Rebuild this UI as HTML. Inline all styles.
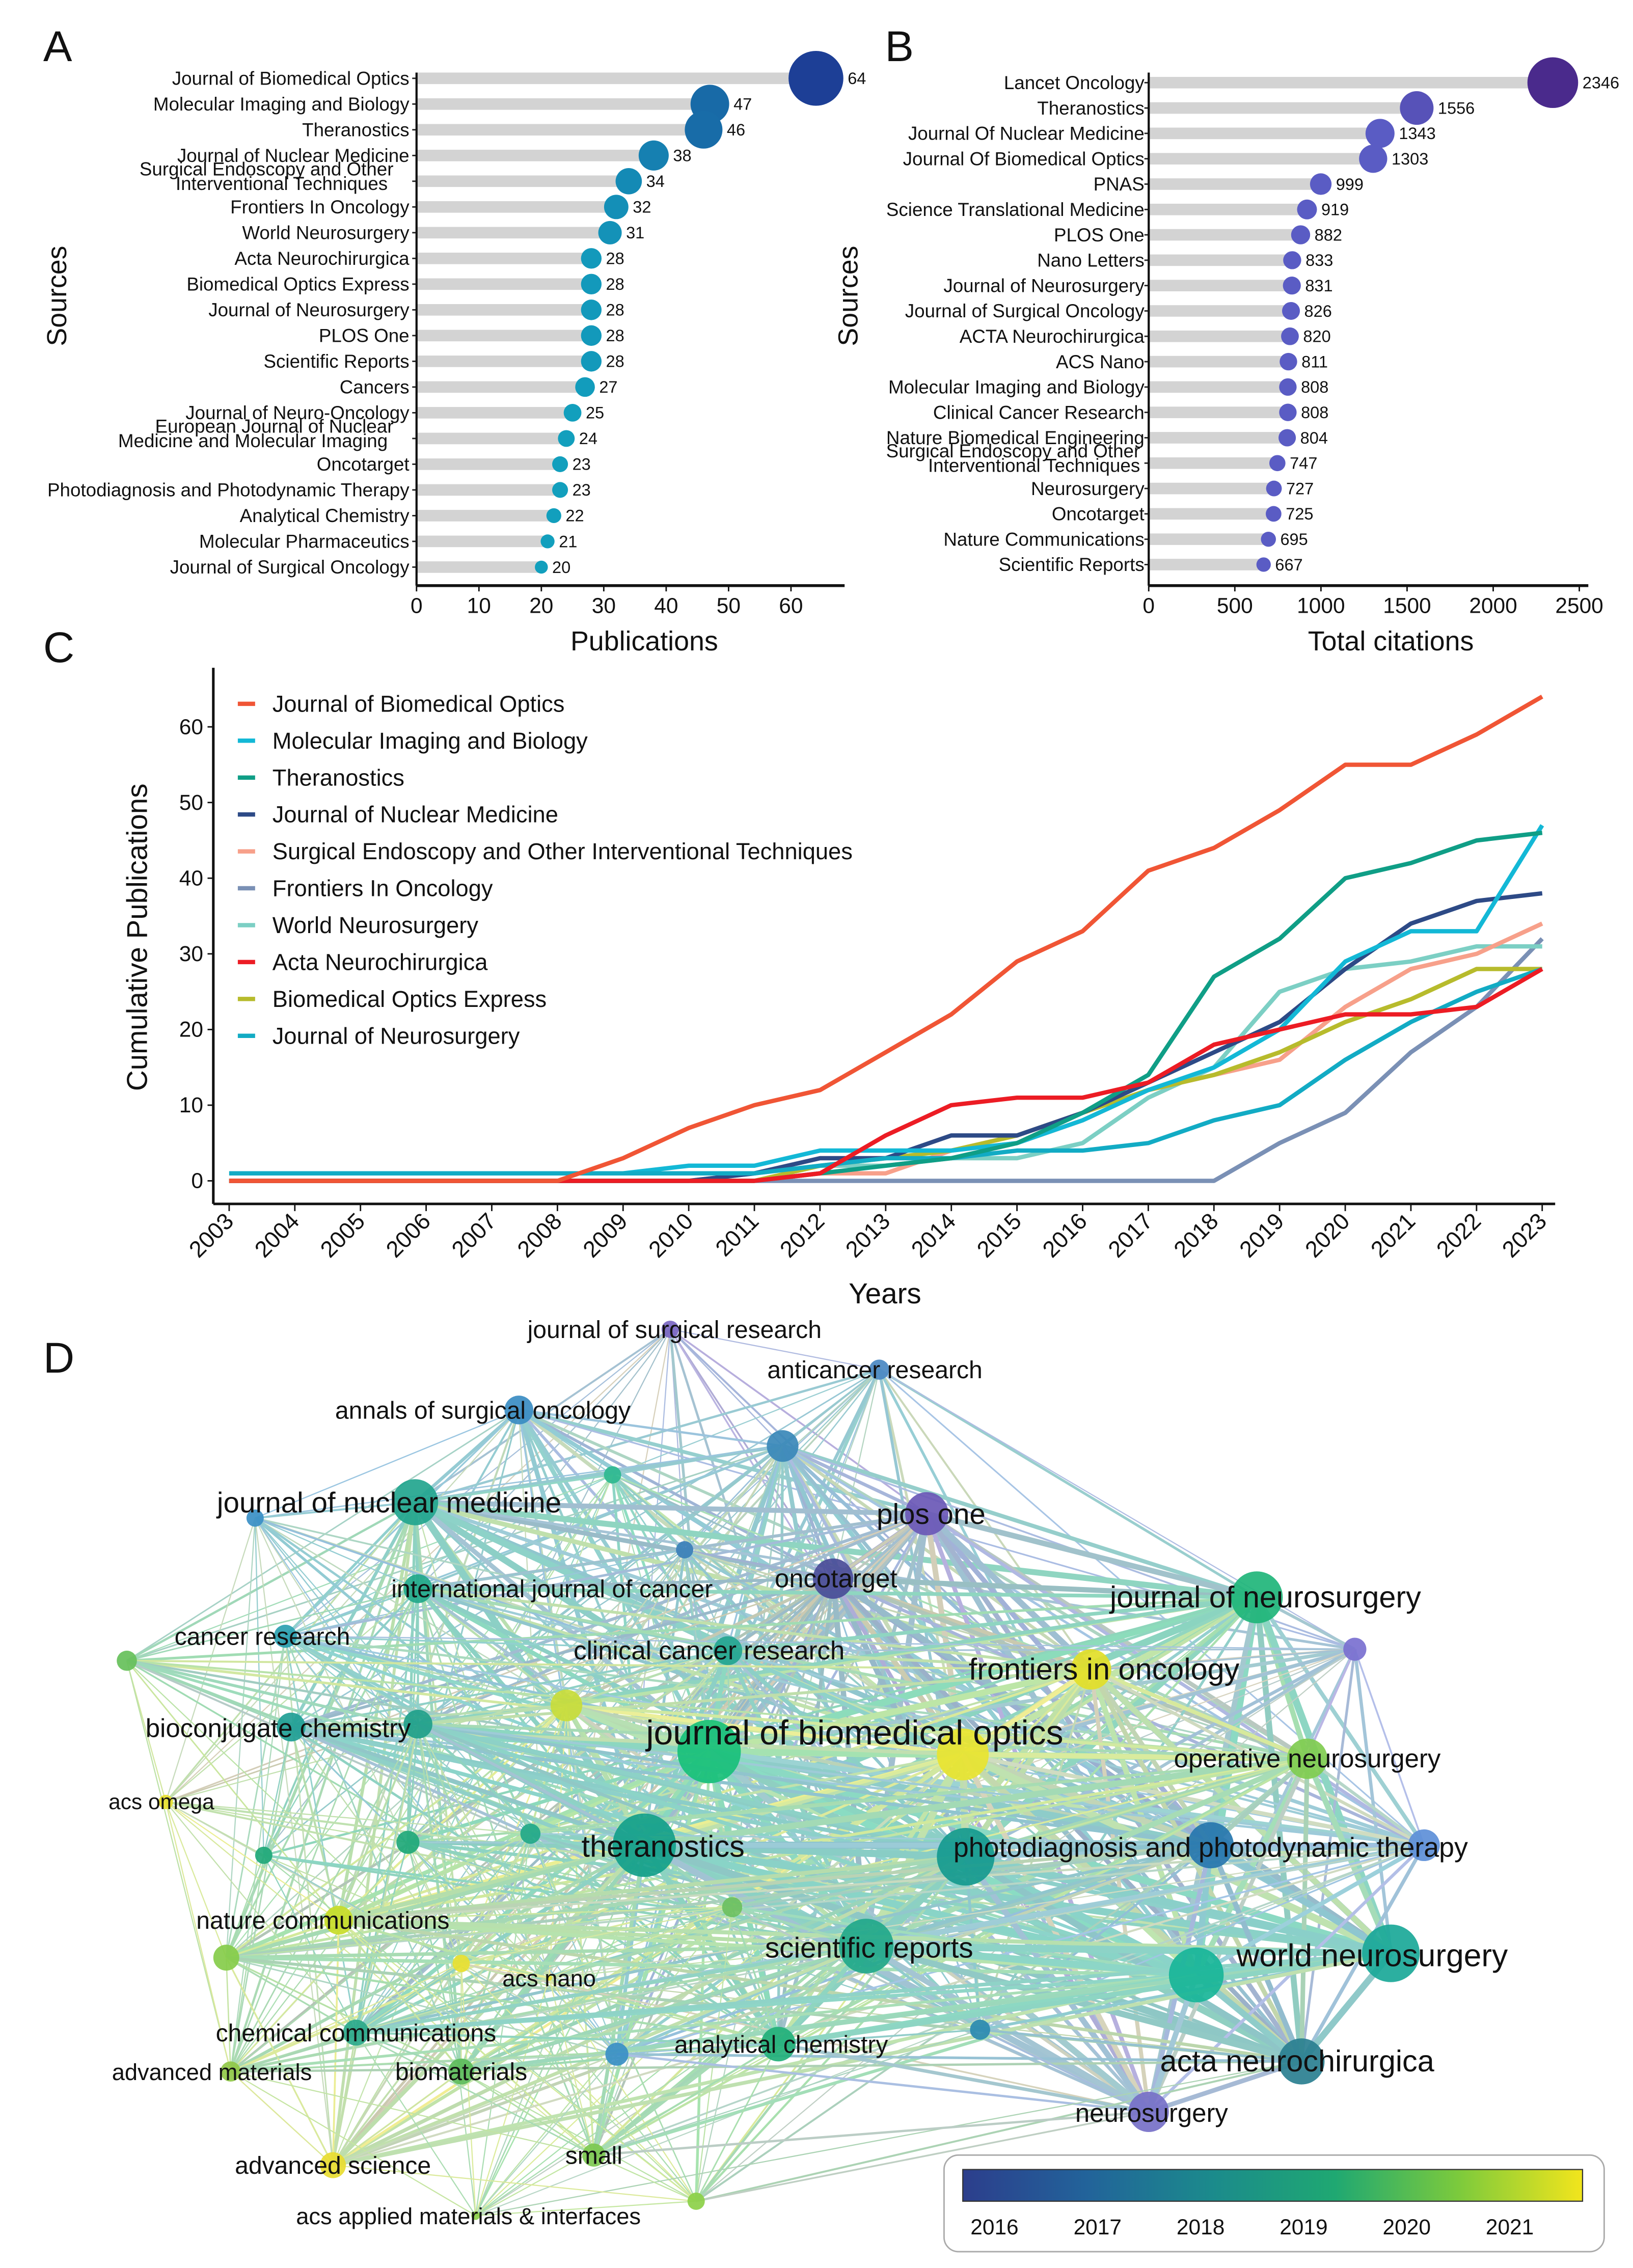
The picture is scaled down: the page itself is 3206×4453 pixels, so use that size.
<!DOCTYPE html>
<html><head><meta charset="utf-8">
<style>
html,body{margin:0;padding:0;background:#fff;}
svg{display:block;}
text{font-family:"Liberation Sans Narrow","Liberation Sans",sans-serif;fill:#111;}
.w{font-family:"Liberation Sans",sans-serif;}
</style></head>
<body>
<svg id="fig" width="3206" height="4453" viewBox="0 0 1133 1573" xmlns="http://www.w3.org/2000/svg">
<rect width="1133" height="1573" fill="#fff"/>
<g id="gA"></g>
<g id="gB"></g>
<g id="gC"></g>
<g id="gD"></g>
</svg>
<script>
const NS="http://www.w3.org/2000/svg";
// ---------- Panel A data ----------
const sourcesA=["Journal of Biomedical Optics","Molecular Imaging and Biology","Theranostics","Journal of Nuclear Medicine","Surgical Endoscopy and Other|Interventional Techniques","Frontiers In Oncology","World Neurosurgery","Acta Neurochirurgica","Biomedical Optics Express","Journal of Neurosurgery","PLOS One","Scientific Reports","Cancers","Journal of Neuro-Oncology","European Journal of Nuclear|Medicine and Molecular Imaging","Oncotarget","Photodiagnosis and Photodynamic Therapy","Analytical Chemistry","Molecular Pharmaceutics","Journal of Surgical Oncology"];
const pubsA=[64,47,46,38,34,32,31,28,28,28,28,28,27,25,24,23,23,22,21,20];
const ticksA=[0,10,20,30,40,50,60];
// ---------- Panel B data ----------
const sourcesB=["Lancet Oncology","Theranostics","Journal Of Nuclear Medicine","Journal Of Biomedical Optics","PNAS","Science Translational Medicine","PLOS One","Nano Letters","Journal of Neurosurgery","Journal of Surgical Oncology","ACTA Neurochirurgica","ACS Nano","Molecular Imaging and Biology","Clinical Cancer Research","Nature Biomedical Engineering","Surgical Endoscopy and Other|Interventional Techniques","Neurosurgery","Oncotarget","Nature Communications","Scientific Reports"];
const citesB=[2346,1556,1343,1303,999,919,882,833,831,826,820,811,808,808,804,747,727,725,695,667];
const ticksB=[0,500,1000,1500,2000,2500];
// ---------- Panel C data ----------
const years=[2003,2004,2005,2006,2007,2008,2009,2010,2011,2012,2013,2014,2015,2016,2017,2018,2019,2020,2021,2022,2023];
const seriesNames=["Journal of Biomedical Optics","Molecular Imaging and Biology","Theranostics","Journal of Nuclear Medicine","Surgical Endoscopy and Other Interventional Techniques","Frontiers In Oncology","World Neurosurgery","Acta Neurochirurgica","Biomedical Optics Express","Journal of Neurosurgery"];
const seriesColors=["#f05535","#13b8d6","#0f9e86","#2d4a86","#f7a08a","#7a90b5","#7ccfc4","#ec1c24","#b7bb2c","#12abc4"];
const sJBO=[0,0,0,0,0,0,3,7,10,12,17,22,29,33,41,44,49,55,55,59,64];
const sMIB=[1,1,1,1,1,1,1,2,2,4,4,4,5,8,12,15,20,29,33,33,47];
const sTHE=[0,0,0,0,0,0,0,0,0,1,2,3,5,9,14,27,32,40,42,45,46];
const sJNM=[0,0,0,0,0,0,0,0,1,3,3,6,6,9,13,17,21,28,34,37,38];
const sSE=[0,0,0,0,0,0,0,0,0,1,1,4,5,8,12,14,16,23,28,30,34];
const sFIO=[0,0,0,0,0,0,0,0,0,0,0,0,0,0,0,0,5,9,17,23,32];
const sWN=[0,0,0,0,0,0,0,0,1,2,2,3,3,5,11,15,25,28,29,31,31];
const sACTA=[0,0,0,0,0,0,0,0,0,1,6,10,11,11,13,18,20,22,22,23,28];
const sBOE=[0,0,0,0,0,0,0,0,0,2,3,4,6,9,12,14,17,21,24,28,28];
const sJNS=[1,1,1,1,1,1,1,1,1,2,3,3,4,4,5,8,10,16,21,25,28];
const seriesVals=[sJBO,sMIB,sTHE,sJNM,sSE,sFIO,sWN,sACTA,sBOE,sJNS];
const ticksC=[0,10,20,30,40,50,60];

function el(tag,attrs,parent,txt){const e=document.createElementNS(NS,tag);for(const k in attrs)e.setAttribute(k,attrs[k]);if(txt!==undefined)e.textContent=txt;parent.appendChild(e);return e;}
function lerpCol(a,b,t){const pa=[1,3,5].map(i=>parseInt(a.substr(i,2),16)),pb=[1,3,5].map(i=>parseInt(b.substr(i,2),16));return "rgb("+pa.map((v,i)=>Math.round(v+(pb[i]-v)*t)).join(",")+")";}

// ---------- Panel A ----------
(function(){
const g=document.getElementById('gA');
const x0=289,ux=4.33,y0=54,dy=17.85;
const X=v=>x0+v*ux, Y=i=>y0+i*dy;
let t=el('text',{x:30,y:42,'font-size':30,class:'w'},g,'A');
t=el('text',{x:0,y:0,'font-size':19,class:'w',transform:'translate(46,205) rotate(-90)','text-anchor':'middle'},g,'Sources');

pubsA.forEach((v,i)=>{
  const y=Y(i);
  const bar=el('rect',{x:x0,y:y-4,width:X(v)-x0,height:8,fill:'#d3d3d3'},g);
  
  const r=4.5+(v-20)*0.33;
  const c=lerpCol('#1d3f96','#129fbd',Math.min(1,(64-v)/44*1.15));
  const d=el('circle',{cx:X(v),cy:y,r:r,fill:c},g);
  
  const lb=el('text',{x:X(v)+r+3,y:y+4,'font-size':11.5},g,String(v));
  
  const parts=sourcesA[i].split('|');
  el('line',{x1:x0-3,x2:x0,y1:y,y2:y,stroke:'#222','stroke-width':1},g);
  if(parts.length===1){const s=el('text',{x:x0-5,y:y+4.5,'font-size':13,'text-anchor':'end'},g,parts[0]);}
  else{parts.forEach((p,k)=>{const s=el('text',{x:x0-16+(k===1?-4:0),y:y+(k===0?-4:6),'font-size':13,'text-anchor':'end'},g,p);});}
});
el('line',{x1:x0,x2:x0,y1:50,y2:406,stroke:'#111','stroke-width':1.5},g);
el('line',{x1:x0,x2:586,y1:406,y2:406,stroke:'#111','stroke-width':2},g);
ticksA.forEach(v=>{el('line',{x1:X(v),x2:X(v),y1:406,y2:410,stroke:'#111'},g);const s=el('text',{x:X(v),y:425,'font-size':15,'text-anchor':'middle'},g,String(v));});
t=el('text',{x:447,y:451,'font-size':19,'text-anchor':'middle',class:'w'},g,'Publications');
})();

// ---------- Panel B ----------
(function(){
const g=document.getElementById('gB');
const x0=797,ux=0.1195,y0=57,dy=17.6;
const X=v=>x0+v*ux, Y=i=>y0+i*dy;
let t=el('text',{x:614,y:42,'font-size':30,class:'w'},g,'B');
t=el('text',{x:0,y:0,'font-size':19,class:'w',transform:'translate(595,205) rotate(-90)','text-anchor':'middle'},g,'Sources');

citesB.forEach((v,i)=>{
  const y=Y(i);
  const bar=el('rect',{x:x0,y:y-4,width:X(v)-x0,height:8,fill:'#d3d3d3'},g);
  
  const r=5+Math.max(0,(v-667))*0.0075;
  const c=lerpCol('#4a2a8c','#5a5cc4',Math.min(1,(2346-v)/1000));
  const d=el('circle',{cx:X(v),cy:y,r:r,fill:c},g);
  
  const lb=el('text',{x:X(v)+r+3,y:y+4,'font-size':11.5},g,String(v));
  
  el('line',{x1:x0-3,x2:x0,y1:y,y2:y,stroke:'#222','stroke-width':1},g);
  const parts=sourcesB[i].split('|');
  if(parts.length===1){const s=el('text',{x:x0-3,y:y+4.5,'font-size':13,'text-anchor':'end'},g,parts[0]);}
  else{parts.forEach((p,k)=>{const s=el('text',{x:x0-6,y:y+(k===0?-4:6),'font-size':13,'text-anchor':'end'},g,p);});}
});
el('line',{x1:x0,x2:x0,y1:50,y2:406,stroke:'#111','stroke-width':1.5},g);
el('line',{x1:x0,x2:1102,y1:406,y2:406,stroke:'#111','stroke-width':2},g);
ticksB.forEach(v=>{el('line',{x1:X(v),x2:X(v),y1:406,y2:410,stroke:'#111'},g);const s=el('text',{x:X(v),y:425,'font-size':15,'text-anchor':'middle'},g,String(v));});
t=el('text',{x:965,y:451,'font-size':19,'text-anchor':'middle',class:'w'},g,'Total citations');
})();

// ---------- Panel C ----------
(function(){
const g=document.getElementById('gC');
const xa=159,xb=1070,ya=819,uy=5.25;
const X=yr=>xa+(yr-2003)*(xb-xa)/20, Y=v=>ya-v*uy;
let t=el('text',{x:30,y:459,'font-size':30,class:'w'},g,'C');
el('line',{x1:148,x2:148,y1:463,y2:835,stroke:'#111','stroke-width':1.8},g);
el('line',{x1:148,x2:1079,y1:835,y2:835,stroke:'#111','stroke-width':1.8},g);
ticksC.forEach(v=>{el('line',{x1:144,x2:148,y1:Y(v),y2:Y(v),stroke:'#111'},g);const s=el('text',{x:141,y:Y(v)+5,'font-size':15,'text-anchor':'end'},g,String(v));});
years.forEach(yr=>{el('line',{x1:X(yr),x2:X(yr),y1:835,y2:840,stroke:'#111'},g);const s=el('text',{x:0,y:0,'font-size':16,'text-anchor':'end',transform:'translate('+(X(yr)+4)+',848) rotate(-45)'},g,String(yr));});
t=el('text',{x:0,y:0,'font-size':20,class:'w','text-anchor':'middle',transform:'translate(102,650) rotate(-90)'},g,'Cumulative Publications');
t=el('text',{x:614,y:904,'font-size':20,class:'w','text-anchor':'middle'},g,'Years');
const order=[5,6,4,8,3,1,9,2,7,0];
order.forEach(k=>{
  const pts=seriesVals[k].map((v,i)=>X(years[i]).toFixed(1)+','+Y(v).toFixed(1)).join(' ');
  const p=el('polyline',{points:pts,fill:'none',stroke:seriesColors[k],'stroke-width':3,'stroke-linejoin':'round'},g);
  
});
seriesNames.forEach((n,k)=>{
  const y=488+k*25.6;
  el('line',{x1:165,x2:177,y1:y,y2:y,stroke:seriesColors[k],'stroke-width':3},g);
  const s=el('text',{x:189,y:y+5.5,'font-size':16},g,n);
  
});
})();

// ---------- Panel D (network) ----------
(function(){
const g=document.getElementById('gD');
let t=el('text',{x:30,y:952,'font-size':30,class:'w'},g,'D');
const N=[
[465,922,6,'#7a66c2','journal of surgical research',17,468,928],
[610,950,7,'#4a88c2','anticancer research',17,607,956],
[360,978,10,'#3a8cc2','annals of surgical oncology',17,335,984],
[543,1003,11,'#3a88b8'],
[425,1023,6,'#2cb88f'],
[288,1042,16,'#22a58e','journal of nuclear medicine',20,270,1049],
[177,1053,6,'#3a8fc5'],
[643,1050,15,'#6a58b6','plos one',20,646,1057],
[475,1075,6,'#3b7fb8'],
[578,1095,14,'#4a4c98','oncotarget',18,580,1101],
[290,1102,10,'#22a88a','international journal of cancer',17,383,1108],
[872,1108,18,'#20b57a','journal of neurosurgery',21,878,1115],
[198,1135,8,'#2aa0b0','cancer research',17,182,1141],
[505,1145,10,'#23a590','clinical cancer research',18,492,1151],
[88,1152,7,'#66c05a'],
[940,1144,8,'#7a70d0'],
[757,1158,14,'#e2de28','frontiers in oncology',21,766,1165],
[393,1183,11,'#c8dc3a'],
[492,1215,22,'#18c07a','journal of biomedical optics',24,593,1210],
[668,1217,18,'#e8e430'],
[202,1198,10,'#1f9e95','bioconjugate chemistry',18,193,1205],
[290,1196,10,'#20a08a'],
[907,1220,14,'#80cc50','operative neurosurgery',18,907,1226],
[115,1250,5,'#e8e030','acs omega',15,112,1255],
[183,1287,6,'#20a878'],
[283,1278,8,'#20a878'],
[368,1272,7,'#22a888'],
[447,1280,22,'#14a08a','theranostics',21,460,1288],
[670,1288,20,'#159a8f','photodiagnosis and photodynamic therapy',19,840,1288],
[840,1280,16,'#2676ae'],
[988,1280,11,'#5d8fd8'],
[235,1332,10,'#c8dc28','nature communications',17,224,1338],
[157,1358,9,'#86cc4a'],
[320,1362,6,'#e8e030'],
[381,1372,2,'#e8e030','acs nano',16,381,1378],
[508,1323,7,'#6cc060'],
[601,1350,19,'#22a88a','scientific reports',20,603,1358],
[830,1370,19,'#18b598'],
[965,1355,20,'#1aa898','world neurosurgery',22,952,1364],
[247,1410,9,'#2aa88a','chemical communications',17,247,1416],
[160,1437,7,'#90c848','advanced materials',16,147,1443],
[320,1437,9,'#5bbb5a','biomaterials',17,320,1443],
[428,1425,8,'#3a8fc5'],
[540,1418,12,'#22b07a','analytical chemistry',17,542,1424],
[680,1408,7,'#2a8ab0'],
[903,1430,16,'#2a7f90','acta neurochirurgica',21,900,1437],
[797,1465,14,'#7670c8','neurosurgery',18,799,1472],
[231,1502,9,'#e8dc30','advanced science',17,231,1508],
[412,1495,8,'#7cc850','small',17,412,1501],
[330,1537,3,'#8cd048','acs applied materials & interfaces',16,325,1543],
[483,1527,6,'#8cd048']
];
const eg=el('g',{opacity:0.5},g);
function h(a,b){let x=(a*73856093)^(b*19349663);x=(x^(x>>>13))*1274126177;return ((x^(x>>>16))>>>0)%100;}
for(let i=0;i<N.length;i++)for(let j=i+1;j<N.length;j++){
  const a=N[i],b=N[j];const d=Math.hypot(a[0]-b[0],a[1]-b[1]);
  const w=a[2]*b[2];
  const p=Math.min(95,w/3+(d<350?40:10));
  if(h(i,j)<p){
    const e=el('line',{x1:a[0],y1:a[1],x2:b[0],y2:b[1],stroke:lerpCol(a[3],b[3],0.5),'stroke-width':Math.max(0.8,Math.min(5,w/70))},eg);
    
  }
}
N.forEach(n=>{
  const c=el('circle',{cx:n[0],cy:n[1],r:n[2],fill:n[3],opacity:0.92},g);
  
});
N.forEach(n=>{ if(n[4]){
  const s=el('text',{x:n[6],y:n[7],'font-size':n[5],'text-anchor':'middle',class:'w',fill:'#111'},g,n[4]);
  
}});
const defs=el('defs',{},g);
const lg=el('linearGradient',{id:'vir',x1:0,x2:1,y1:0,y2:0},defs);
[['0','#2c3e8c'],['0.2','#22639a'],['0.4','#1b8a8c'],['0.6','#1fa872'],['0.8','#7cca3c'],['1','#f2e51c']].forEach(s=>el('stop',{offset:s[0],'stop-color':s[1]},lg));
const box=el('rect',{x:655,y:1495,width:458,height:67,rx:10,fill:'#fff',stroke:'#aaa','stroke-width':1},g);

const cb=el('rect',{x:668,y:1505,width:430,height:22,fill:'url(#vir)',stroke:'#333','stroke-width':0.8},g);

['2016','2017','2018','2019','2020','2021'].forEach((yr,i)=>{const s=el('text',{x:690+i*71.5,y:1550,'font-size':15,'text-anchor':'middle',class:'w',fill:'#333'},g,yr);});
})();
</script>
</body></html>
